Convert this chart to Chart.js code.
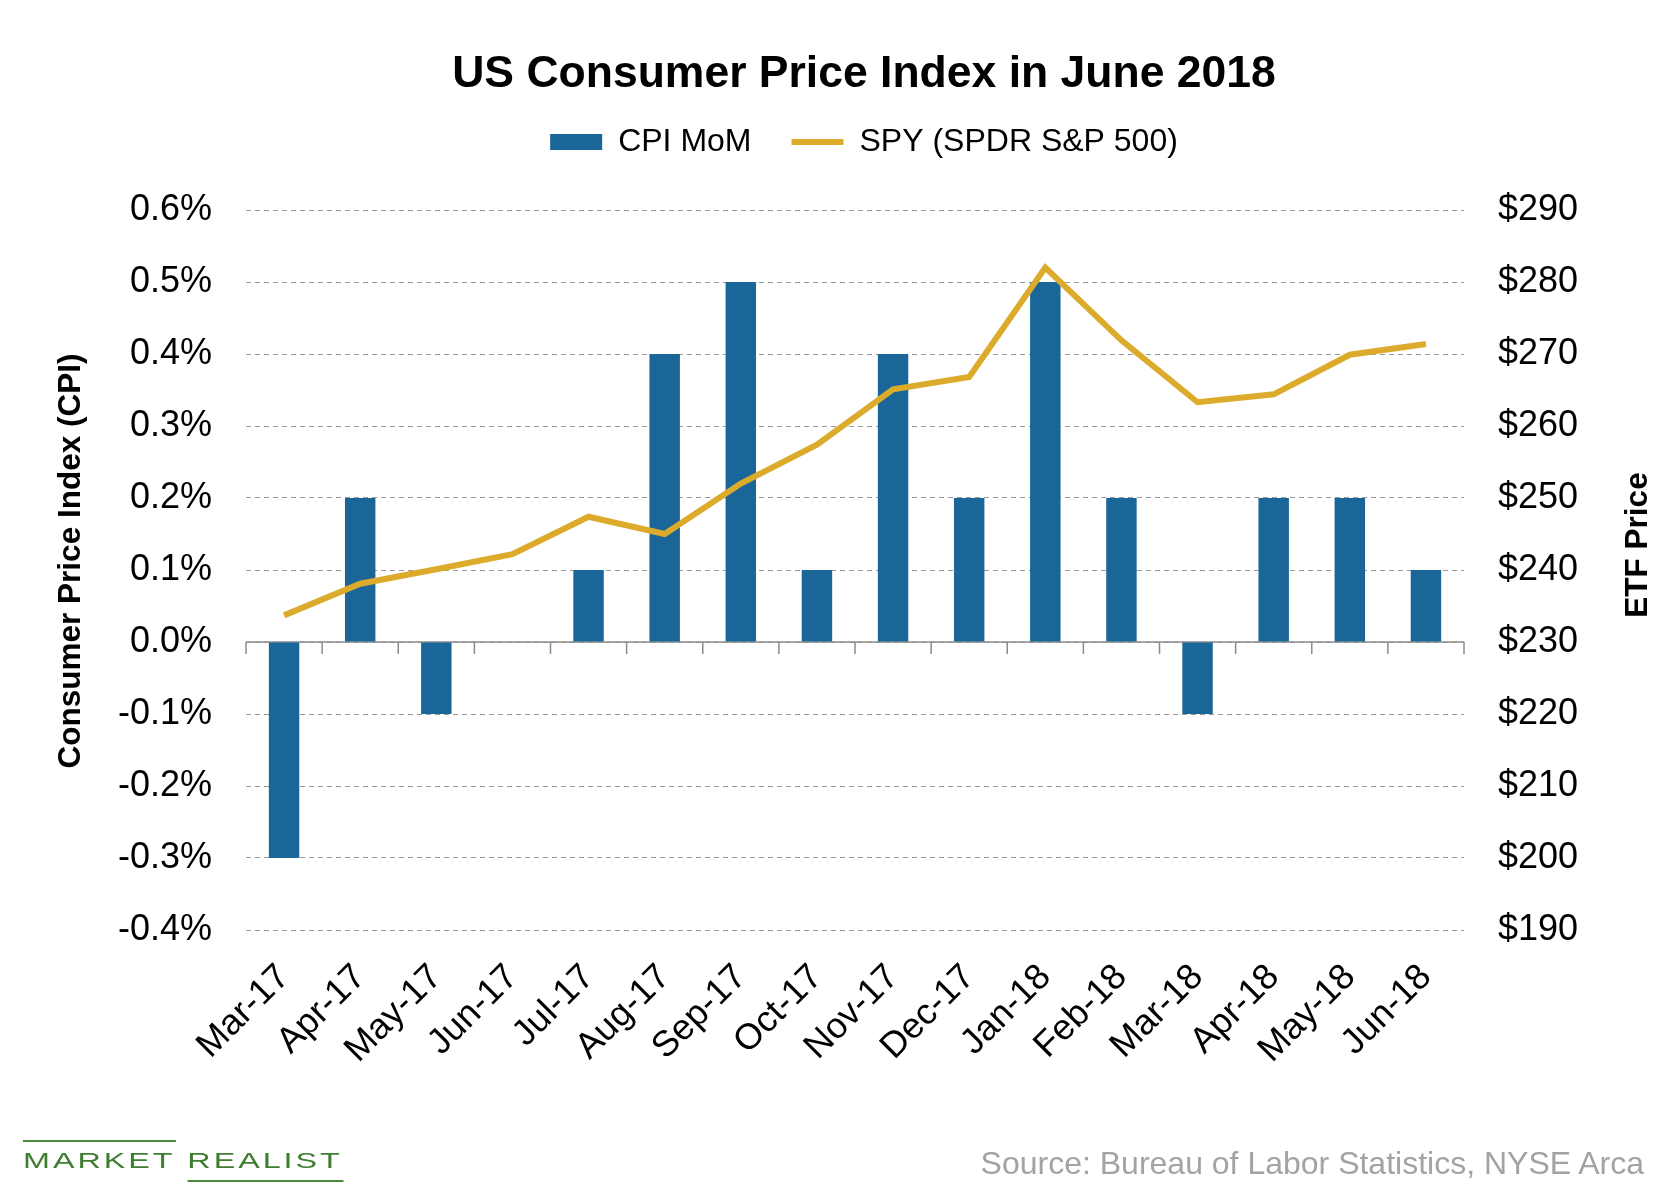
<!DOCTYPE html>
<html>
<head>
<meta charset="utf-8">
<title>US Consumer Price Index in June 2018</title>
<script src="https://cdn.jsdelivr.net/npm/chart.js@4.4.1/dist/chart.umd.min.js"></script>
<style>
    body { margin: 0; background: #ffffff; }
    #wrap { position: relative; width: 1680px; height: 1200px; }
    #logo {
        position: absolute; left: 23px; top: 1140px;
        font-family: "Liberation Sans", Arial, sans-serif;
        font-size: 22px; line-height: 22px; letter-spacing: 2px;
        color: #3f7d31; white-space: nowrap;
        transform: scaleX(1.47); transform-origin: left top;
    }
    #logo span { display: inline-block; }
    #logo .top { border-top: 2px solid #4b8a3c; padding-top: 8px; }
    #logo .bottom { border-bottom: 2px solid #4b8a3c; padding-bottom: 8px; }
    #source {
        position: absolute; right: 36px; top: 1146px;
        font-family: "Liberation Sans", Arial, sans-serif;
        font-size: 32px; line-height: 34px; color: #a3a3a3;
    }
</style>
</head>
<body>
<div id="wrap">
    <canvas id="graficoCPI"></canvas>
    <div id="logo"><span class="top">MARKET</span> <span class="bottom">REALIST</span></div>
    <div id="source">Source: Bureau of Labor Statistics, NYSE Arca</div>
</div>
<script>
const months = ['Mar-17', 'Apr-17', 'May-17', 'Jun-17', 'Jul-17', 'Aug-17', 'Sep-17', 'Oct-17',
    'Nov-17', 'Dec-17', 'Jan-18', 'Feb-18', 'Mar-18', 'Apr-18', 'May-18', 'Jun-18'];
const cpiMoM = [-0.3, 0.2, -0.1, 0.0, 0.1, 0.4, 0.5, 0.1, 0.4, 0.2, 0.5, 0.2, -0.1, 0.2, 0.2, 0.1];
const spyPrice = [233.7, 238.1, 240.1, 242.2, 247.4, 245.0, 252.0, 257.4,
    265.1, 266.8, 282.0, 271.9, 263.3, 264.4, 269.9, 271.4];
const cpiRange = [-0.4, 0.6];
const cpiStep = 0.1;
const priceRange = [190, 290];
const priceStep = 10;

const FONT = '"Liberation Sans", Arial, Helvetica, sans-serif';
const BLUE = '#1a6698';
const GOLD = '#dcab2b';

Chart.defaults.font.family = FONT;
Chart.defaults.color = '#000000';

// axis titles, left one and right one, both read bottom to top
const axisTitles = {
    id: 'axisTitles',
    afterDraw(chart) {
        const ctx = chart.ctx;
        ctx.save();
        ctx.font = 'bold 31.5px ' + FONT;
        ctx.fillStyle = '#000000';
        ctx.textAlign = 'center';
        ctx.textBaseline = 'middle';
        [['Consumer Price Index (CPI)', 71, 561], ['ETF Price', 1638, 545]].forEach(([txt, x, y]) => {
            ctx.save();
            ctx.translate(x, y);
            ctx.rotate(-Math.PI / 2);
            ctx.fillText(txt, 0, 0);
            ctx.restore();
        });
        ctx.restore();
    }
};

// solid zero line with little tick marks between the months
const zeroLine = {
    id: 'zeroLine',
    beforeDatasetsDraw(chart) {
        const {ctx, chartArea, scales} = chart;
        const y0 = scales.y.getPixelForValue(0);
        ctx.save();
        ctx.strokeStyle = '#8c8c8c';
        ctx.lineWidth = 1.5;
        ctx.beginPath();
        ctx.moveTo(chartArea.left, y0);
        ctx.lineTo(chartArea.right, y0);
        for (let i = 0; i <= months.length; i++) {
            let x;
            if (i === 0) x = chartArea.left;
            else if (i === months.length) x = chartArea.right;
            else x = (scales.x.getPixelForValue(i - 1) + scales.x.getPixelForValue(i)) / 2;
            ctx.moveTo(x, y0);
            ctx.lineTo(x, y0 + 12);
        }
        ctx.stroke();
        ctx.restore();
    }
};

const ctx = document.getElementById('graficoCPI').getContext('2d');

const graficoCPI = new Chart(ctx, {
    type: 'bar',
    data: {
        labels: months,
        datasets: [{
            type: 'bar',
            label: 'CPI MoM',
            data: cpiMoM,
            backgroundColor: BLUE,
            borderWidth: 0,
            yAxisID: 'y',
            barPercentage: 0.4,
            categoryPercentage: 1,
            order: 2
        },
        {
            type: 'line',
            label: 'SPY (SPDR S&P 500)',
            data: spyPrice,
            borderColor: GOLD,
            backgroundColor: GOLD,
            borderWidth: 6,
            tension: 0,
            pointRadius: 0,
            fill: false,
            yAxisID: 'y1',
            order: 1
        }]
    },
    options: {
        responsive: true,
        maintainAspectRatio: false,
        animation: false,
        layout: {
            padding: { left: 48, right: 0, top: 0, bottom: 0 }
        },
        plugins: {
            title: {
                display: true,
                text: 'US Consumer Price Index in June 2018',
                color: '#000000',
                font: { size: 44.5, weight: 'bold', lineHeight: 0.5 },
                padding: { top: 63.5, bottom: 0.25 }
            },
            legend: {
                display: true,
                position: 'top',
                labels: {
                    usePointStyle: true,
                    pointStyleWidth: 52,
                    boxHeight: 16,
                    padding: 40,
                    color: '#000000',
                    font: { size: 32 },
                    sort: (a, b) => a.datasetIndex - b.datasetIndex,
                    generateLabels(chart) {
                        const items = Chart.defaults.plugins.legend.labels.generateLabels(chart);
                        items.forEach(item => {
                            if (item.datasetIndex === 0) {
                                item.pointStyle = 'rect';
                                item.lineWidth = 0;
                            } else {
                                item.pointStyle = 'line';
                                item.lineWidth = 6;
                                item.strokeStyle = GOLD;
                            }
                        });
                        return items;
                    }
                }
            },
            tooltip: { enabled: false }
        },
        scales: {
            x: {
                position: 'bottom',
                grid: { display: false },
                border: { display: false },
                ticks: {
                    autoSkip: false,
                    minRotation: 45,
                    maxRotation: 45,
                    padding: 18,
                    color: '#000000',
                    font: { size: 36 }
                },
                afterFit: (scale) => { scale.height = 270; }
            },
            xTop: {
                type: 'category',
                position: 'top',
                grid: { display: false },
                border: { display: false },
                ticks: { display: false },
                afterFit: (scale) => { scale.height = 42; }
            },
            y: {
                position: 'left',
                min: cpiRange[0],
                max: cpiRange[1],
                grid: { color: '#9a9a9a', lineWidth: 1, drawTicks: false },
                border: { display: false, dash: [5, 4] },
                ticks: {
                    stepSize: cpiStep,
                    padding: 34,
                    color: '#000000',
                    font: { size: 36 },
                    callback: (v) => (Math.round(v * 10) / 10).toFixed(1) + '%'
                },
                afterFit: (scale) => { scale.width = 198; }
            },
            y1: {
                position: 'right',
                min: priceRange[0],
                max: priceRange[1],
                grid: { display: false, drawTicks: false },
                border: { display: false },
                ticks: {
                    stepSize: priceStep,
                    padding: 34,
                    color: '#000000',
                    font: { size: 36 },
                    callback: (v) => '$' + v
                },
                afterFit: (scale) => { scale.width = 216; }
            }
        }
    },
    plugins: [zeroLine, axisTitles]
});
</script>
</body>
</html>
